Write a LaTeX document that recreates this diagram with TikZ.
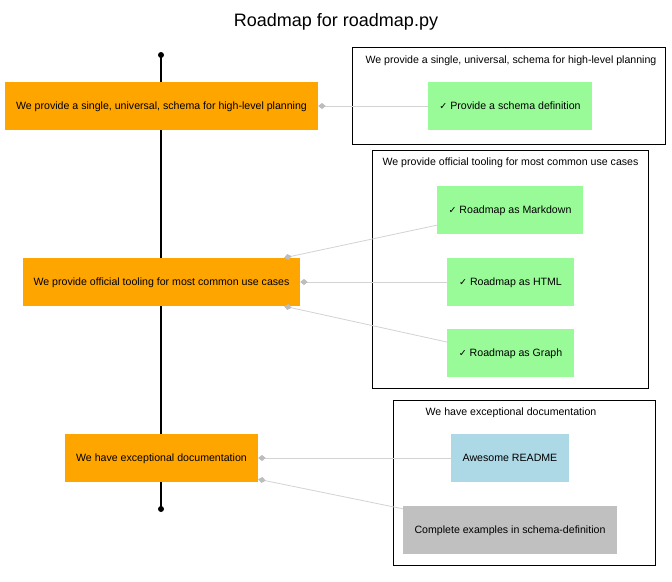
\documentclass[tikz,border=0pt]{standalone}
\usepackage{fontspec}
\setmainfont{Liberation Sans}
\newfontfamily\chk{DejaVu Sans}
\usetikzlibrary{arrows.meta,calc}
\definecolor{gvorange}{HTML}{FFA500}
\definecolor{gvgreen}{HTML}{98FB98}
\definecolor{gvblue}{HTML}{ADD8E6}
\definecolor{gvsilver}{HTML}{C0C0C0}
\definecolor{gvedge}{HTML}{D3D3D3}
\definecolor{gvtip}{HTML}{BDBDBD}
\newcommand{\ck}{{\chk\fontsize{9.5}{11}\selectfont ✓}\ }
\tikzset{
  box/.style={inner sep=0pt,minimum height=48pt,text height=7.6pt,text depth=0pt,font=\fontsize{10.6}{12}\selectfont,text=black},
  goal/.style={box,fill=gvorange},
  done/.style={box,fill=gvgreen},
  todo/.style={box,fill=gvblue},
  misc/.style={box,fill=gvsilver},
  cluster/.style={draw=black,line width=0.8pt},
  clabel/.style={font=\fontsize{10.6}{12}\selectfont,inner sep=0pt,text height=7.6pt,text depth=0pt},
  link/.style={draw=gvedge,line width=0.8pt,-{Diamond[length=7.5pt,width=6pt,color=gvtip,fill=gvtip]}},
  dot/.style={circle,fill=black,inner sep=0pt,minimum size=6pt}
}
\begin{document}
\begin{tikzpicture}[x=1pt,y=-1pt]
\useasboundingbox[fill=white] (0,0) rectangle (672,581);
\node[font=\fontsize{18}{20}\selectfont] (title) at (336,22) {Roadmap for roadmap.py};
% clusters
\draw[cluster] (352,47) rectangle (665,144);
\node[clabel] (c1) at (511,59.5) {We provide a single, universal, schema for high-level planning};
\draw[cluster] (372,150) rectangle (648,388);
\node[clabel] (c2) at (510.5,161.5) {We provide official tooling for most common use cases};
\draw[cluster] (393,400) rectangle (655,565);
\node[clabel] (c3) at (511,411.5) {We have exceptional documentation};
% timeline
\node[dot] (top) at (161,55) {};
\node[dot] (bot) at (161,509) {};
\draw[line width=1.3pt] (top.center) -- (bot.center);
% goals
\node[goal,minimum width=313pt] (o1) at (161.5,106) {We provide a single, universal, schema for high-level planning};
\node[goal,minimum width=277pt] (o2) at (161.5,282) {We provide official tooling for most common use cases};
\node[goal,minimum width=193pt] (o3) at (161.5,458) {We have exceptional documentation};
% items
\node[done,minimum width=164pt] (g1) at (510,106) {\ck Provide a schema definition};
\node[done,minimum width=146pt] (g2a) at (510,210) {\ck Roadmap as Markdown};
\node[done,minimum width=127pt] (g2b) at (510.5,282) {\ck Roadmap as HTML};
\node[done,minimum width=127pt] (g2c) at (510.5,353) {\ck Roadmap as Graph};
\node[todo,minimum width=118pt] (rd) at (510,458) {Awesome README};
\node[misc,minimum width=214pt] (ex) at (510,530) {Complete examples in schema-definition};
% links
\draw[link] (g1.west) -- (o1.east);
\draw[link] ([yshift=9pt]g2a.south west) -- ([xshift=-16pt]o2.north east);
\draw[link] (g2b.west) -- (o2.east);
\draw[link] ([yshift=11pt]g2c.west) -- ([xshift=-16pt]o2.south east);
\draw[link] (rd.west) -- (o3.east);
\draw[link] ([yshift=-3pt]ex.north west) -- ([yshift=3pt]o3.south east);
\end{tikzpicture}
\end{document}
